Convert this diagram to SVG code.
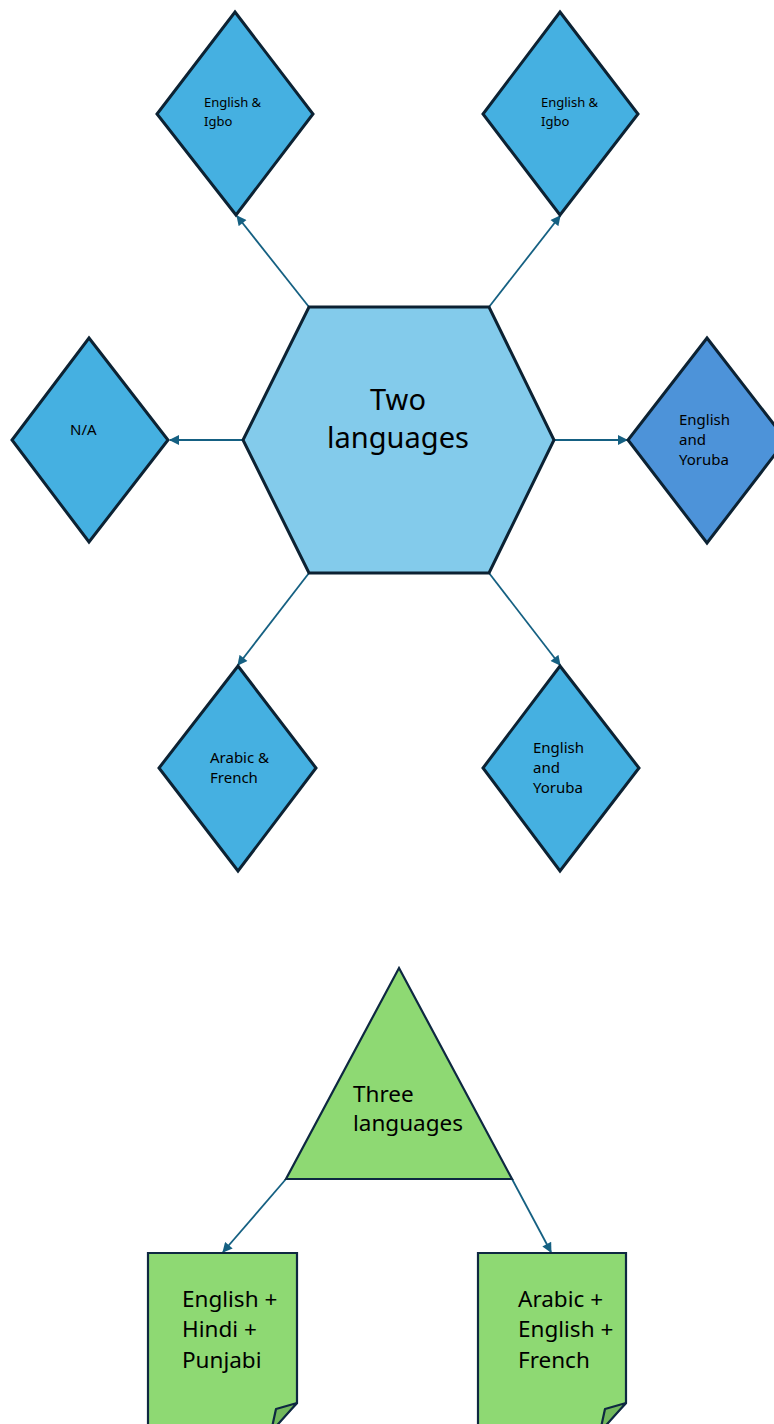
<svg xmlns="http://www.w3.org/2000/svg" width="774" height="1424" viewBox="0 0 774 1424">
<style>
.dia{fill:#45B0E1;stroke:#0C2233;stroke-width:3;stroke-linejoin:miter}
.hex{fill:#83CBEB;stroke:#0C2233;stroke-width:3}
.grn{fill:#8ED973;stroke:#0E2841;stroke-width:2.2}
.fold{fill:#72B85C;stroke:#0E2841;stroke-width:2.2;stroke-linejoin:round}
.con{stroke:#156082;stroke-width:1.8;fill:none;marker-end:url(#ah)}
text{font-family:"Noto Sans","Liberation Sans",sans-serif;fill:#000}
.s13{font-size:13px}
.s15{font-size:15px}
.s22{font-size:22.5px}
.s29{font-size:29px}
</style>
<defs>
<marker id="ah" viewBox="0 0 10 10" refX="9" refY="5" markerWidth="11" markerHeight="10" orient="auto" markerUnits="userSpaceOnUse">
<path d="M0,0 L10,5 L0,10 z" fill="#156082"/>
</marker>
</defs>
<rect width="774" height="1424" fill="#fff"/>
<g id="connectors">
<line class="con" x1="309" y1="307" x2="237" y2="216"/>
<line class="con" x1="489" y1="307" x2="560" y2="216"/>
<line class="con" x1="243" y1="440" x2="170" y2="440"/>
<line class="con" x1="554" y1="440" x2="627" y2="440"/>
<line class="con" x1="309" y1="573" x2="238" y2="665"/>
<line class="con" x1="489" y1="573" x2="560" y2="665"/>
<line class="con" x1="286" y1="1179" x2="223" y2="1252"/>
<line class="con" x1="512" y1="1179" x2="551" y2="1252"/>
</g>
<g id="hex-two">
<polygon class="hex" points="309,307 489,307 554,440 489,573 309,573 243,440"/>
<text class="s29" x="398" y="410" text-anchor="middle">Two</text>
<text class="s29" x="398" y="448" text-anchor="middle">languages</text>
</g>
<g id="d-tl">
<polygon class="dia" points="235,12 313,114 236,215 157,114"/>
<text class="s13" x="204" y="107">English &amp;</text>
<text class="s13" x="204" y="126">Igbo</text>
</g>
<g id="d-tr">
<polygon class="dia" points="560,12 638,114 560,215 483,114"/>
<text class="s13" x="541" y="107">English &amp;</text>
<text class="s13" x="541" y="126">Igbo</text>
</g>
<g id="d-l">
<polygon class="dia" points="89,338 168,440 89,542 12,440"/>
<text class="s15" x="70" y="435">N/A</text>
</g>
<g id="d-r">
<polygon class="dia" style="fill:#4D93D9" points="707,338 786,440 707,543 628,440"/>
<text class="s15" x="679" y="425">English</text>
<text class="s15" x="679" y="445">and</text>
<text class="s15" x="679" y="465">Yoruba</text>
</g>
<g id="d-bl">
<polygon class="dia" points="238,666 316,768 238,871 159,768"/>
<text class="s15" x="210" y="763">Arabic &amp;</text>
<text class="s15" x="210" y="783">French</text>
</g>
<g id="d-br">
<polygon class="dia" points="560,666 639,768 560,871 483,768"/>
<text class="s15" x="533" y="753">English</text>
<text class="s15" x="533" y="773">and</text>
<text class="s15" x="533" y="793">Yoruba</text>
</g>
<g id="tri-three">
<polygon class="grn" points="399,968 512,1179 286,1179"/>
<text class="s22" x="353" y="1102">Three</text>
<text class="s22" x="353" y="1131">languages</text>
</g>
<g id="doc-l">
<path class="grn" d="M148,1253 H297 V1403 L268,1432 H148 Z"/>
<path class="fold" d="M297,1403 L276,1409 L271,1432 Z"/>
<text class="s22" x="182" y="1307">English +</text>
<text class="s22" x="182" y="1337">Hindi +</text>
<text class="s22" x="182" y="1368">Punjabi</text>
</g>
<g id="doc-r">
<path class="grn" d="M478,1253 H626 V1403 L597,1432 H478 Z"/>
<path class="fold" d="M626,1403 L605,1409 L600,1432 Z"/>
<text class="s22" x="518" y="1307">Arabic +</text>
<text class="s22" x="518" y="1337">English +</text>
<text class="s22" x="518" y="1368">French</text>
</g>
</svg>
